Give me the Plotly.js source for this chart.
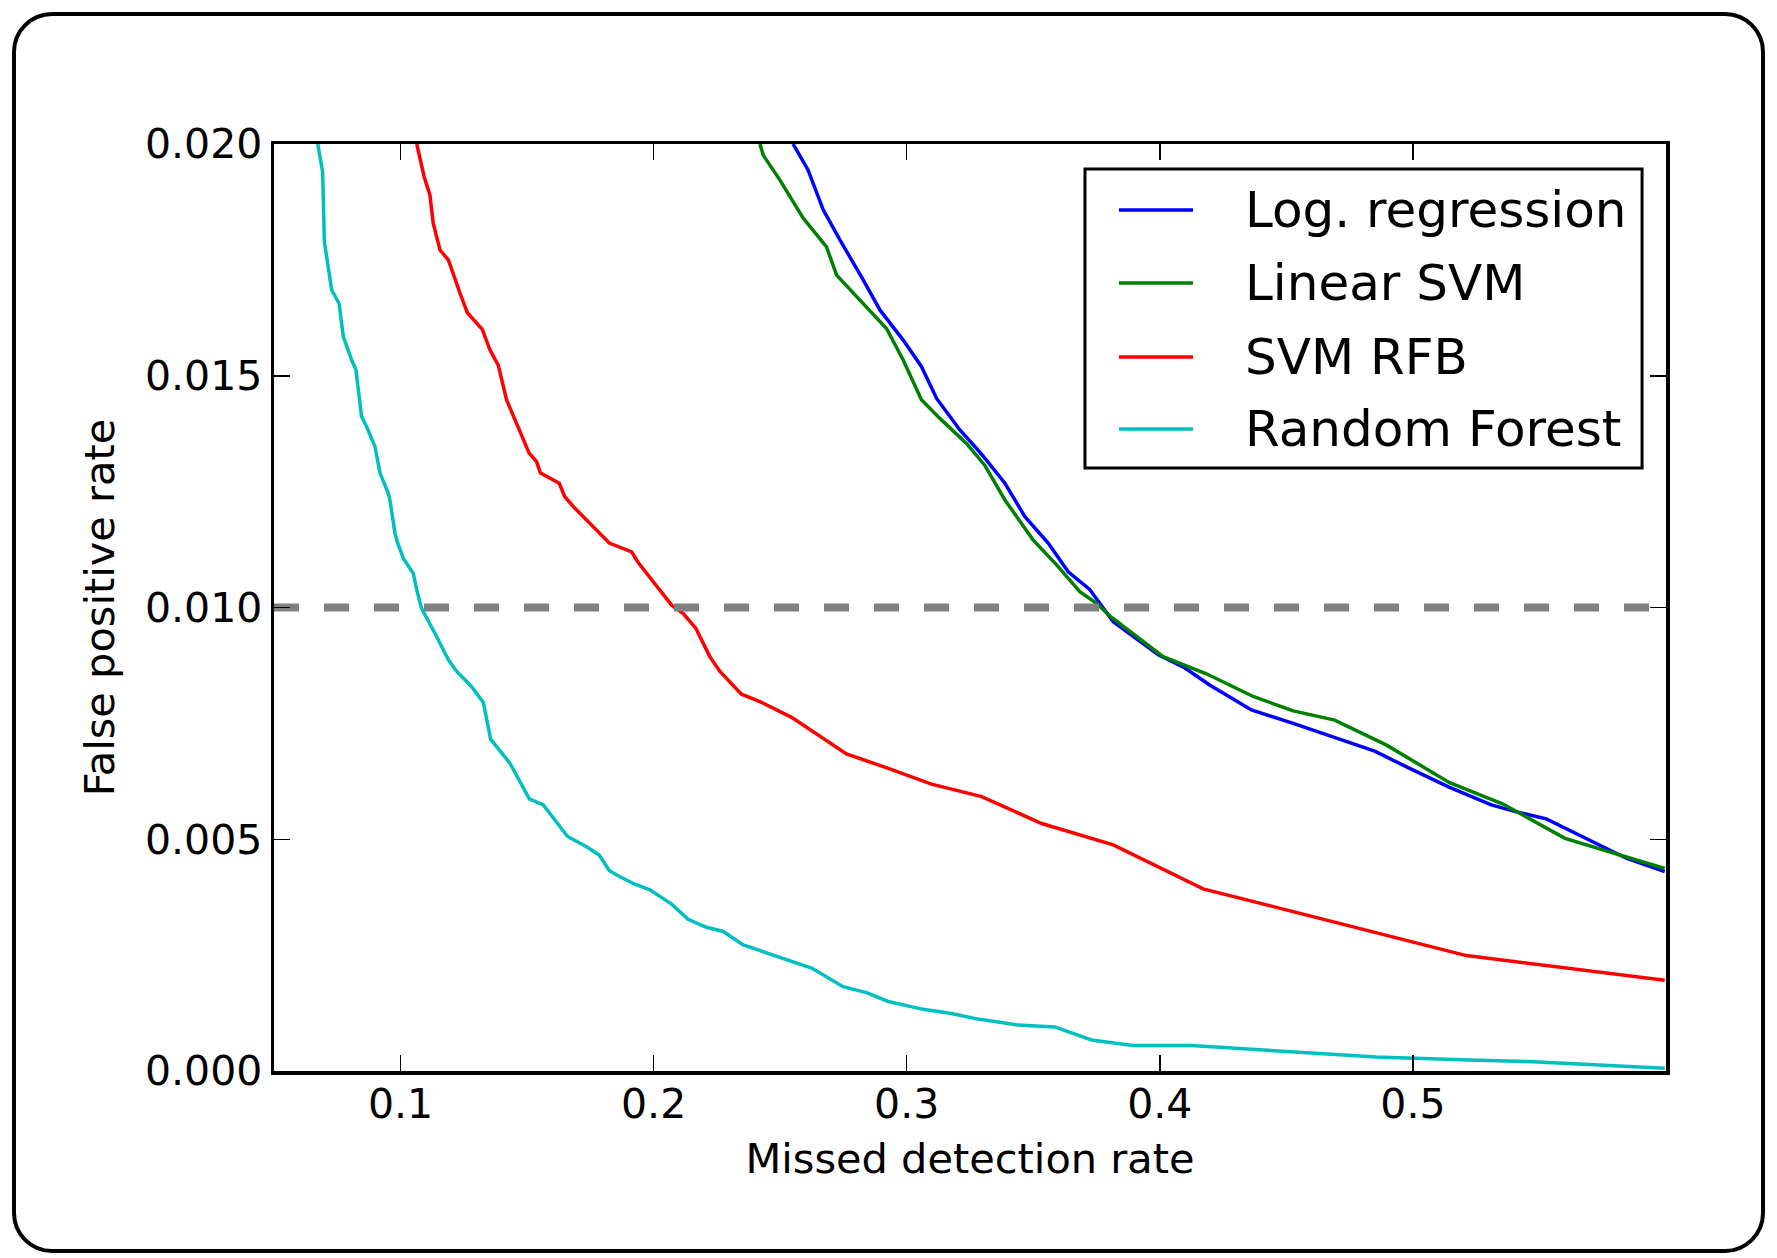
<!DOCTYPE html>
<html>
<head>
<meta charset="utf-8">
<script src="https://cdn.plot.ly/plotly-3.0.1.min.js"></script>
<style>
  html, body { margin: 0; padding: 0; background: #ffffff; }
  #wrap { position: relative; width: 1777px; height: 1258px; }
  #chart { position: absolute; left: 0; top: 0; width: 1777px; height: 1258px; }
  #frame { position: absolute; left: 12px; top: 12px; width: 1753px; height: 1241px;
           box-sizing: border-box; border: 4px solid #000; border-radius: 40px; pointer-events: none; }
</style>
</head>
<body>
<div id="wrap">
  <div id="chart"></div>
  <div id="frame"></div>
</div>
<script>
// ---- data ----
const seriesNames = ["Log. regression", "Linear SVM", "SVM RFB", "Random Forest"];
const seriesColors = ["#0000ff", "#008000", "#ff0000", "#00bfbf"];

const logRegX = [0.2551,0.2610,0.2670,0.2736,0.2828,0.2894,0.2986,0.3058,0.3118,0.3210,0.3276,0.3315,0.3388,0.3467,0.3559,0.3638,0.3723,0.3760,0.3816,0.3994,0.4092,0.4197,0.4362,0.4527,0.4691,0.4849,0.4987,0.5145,0.5310,0.5409,0.5527,0.5712,0.5843,0.5995];
const logRegY = [0.0200,0.01944,0.01858,0.01793,0.01707,0.01642,0.01577,0.01520,0.01451,0.01383,0.01343,0.01318,0.01268,0.01196,0.01139,0.01077,0.01039,0.01010,0.00969,0.00898,0.00872,0.00833,0.00779,0.00750,0.00720,0.00690,0.00653,0.00612,0.00574,0.00559,0.00544,0.00493,0.00459,0.00430];

const linSvmX = [0.2420,0.2433,0.2499,0.2591,0.2683,0.2723,0.2920,0.2986,0.3058,0.3131,0.3236,0.3308,0.3388,0.3460,0.3499,0.3592,0.3684,0.3750,0.3802,0.4013,0.4184,0.4369,0.4527,0.4691,0.4896,0.5145,0.5356,0.5601,0.5751,0.5995];
const linSvmY = [0.0200,0.01976,0.01922,0.01840,0.01778,0.01717,0.01602,0.01534,0.01448,0.01408,0.01354,0.01307,0.01232,0.01178,0.01146,0.01092,0.01034,0.01009,0.00982,0.00894,0.00857,0.00808,0.00777,0.00757,0.00703,0.00622,0.00576,0.00502,0.00477,0.00437];

const svmRbfX = [0.1064,0.1093,0.1116,0.1129,0.1156,0.1189,0.1235,0.1264,0.1323,0.1353,0.1386,0.1419,0.1508,0.1537,0.1553,0.1627,0.1649,0.1689,0.1825,0.1913,0.1939,0.2071,0.2117,0.2167,0.2222,0.2262,0.2347,0.2420,0.2545,0.2762,0.2927,0.3098,0.3296,0.3533,0.3816,0.4171,0.5211,0.5995];
const svmRbfY = [0.0200,0.01930,0.01890,0.01829,0.01771,0.01750,0.01678,0.01636,0.01600,0.01556,0.01523,0.01448,0.01333,0.01315,0.01290,0.01268,0.01239,0.01214,0.01139,0.01120,0.01097,0.01005,0.00987,0.00955,0.00894,0.00862,0.00813,0.00797,0.00763,0.00684,0.00653,0.00619,0.00592,0.00534,0.00488,0.00393,0.00249,0.00196];

const rfX = [0.0673,0.0692,0.0699,0.0721,0.0728,0.0757,0.0774,0.0807,0.0824,0.0846,0.0866,0.0899,0.0919,0.0952,0.0958,0.0978,0.0985,0.1011,0.1050,0.1064,0.1083,0.1143,0.1189,0.1222,0.1281,0.1327,0.1356,0.1432,0.1509,0.1564,0.1660,0.1735,0.1785,0.1825,0.1867,0.1926,0.1985,0.2071,0.2137,0.2209,0.2275,0.2354,0.2459,0.2624,0.2749,0.2841,0.2927,0.3065,0.3177,0.3282,0.3440,0.3585,0.3730,0.3894,0.4124,0.4540,0.4856,0.5224,0.5475,0.5995];
const rfY = [0.0200,0.01940,0.01789,0.01707,0.01685,0.01656,0.01584,0.01534,0.01512,0.01412,0.01390,0.01347,0.01290,0.01246,0.01232,0.01160,0.01145,0.01106,0.01074,0.01038,0.00998,0.00937,0.00887,0.00862,0.00829,0.00795,0.00716,0.00664,0.00587,0.00574,0.00506,0.00484,0.00466,0.00432,0.00419,0.00403,0.00391,0.00360,0.00327,0.00310,0.00301,0.00272,0.00252,0.00222,0.00182,0.00169,0.00150,0.00133,0.00124,0.00112,0.00099,0.00095,0.00067,0.00055,0.00055,0.00040,0.00030,0.00024,0.00020,0.00006];

const thresholdX = [0.05, 0.6];
const thresholdY = [0.01, 0.01];

const xTickVals = [0.1, 0.2, 0.3, 0.4, 0.5];
const xTickText = ["0.1", "0.2", "0.3", "0.4", "0.5"];
const yTickVals = [0.0, 0.005, 0.010, 0.015, 0.020];
const yTickText = ["0.000", "0.005", "0.010", "0.015", "0.020"];
const xRange = [0.05, 0.6];
const yRange = [0.0, 0.02];

// ---- traces ----
const xs = [logRegX, linSvmX, svmRbfX, rfX];
const ys = [logRegY, linSvmY, svmRbfY, rfY];
const traces = seriesNames.map((name, i) => ({
  type: "scatter", mode: "lines", name: name,
  x: xs[i], y: ys[i],
  line: { color: seriesColors[i], width: 3.5 },
  showlegend: false,
  hoverinfo: "skip"
}));
traces.push({
  type: "scatter", mode: "lines", name: "threshold", x: thresholdX, y: thresholdY,
  line: { color: "#808080", width: 8, dash: "25px,25px" },
  showlegend: false, hoverinfo: "skip"
});

const font = "DejaVu Sans, Liberation Sans, sans-serif";
const axisCommon = {
  showline: true, linecolor: "#000", linewidth: 3.5, mirror: "ticks",
  ticks: "inside", ticklen: 16, tickwidth: 1.5, tickcolor: "#000",
  showgrid: false, zeroline: false, tickfont: { family: font, size: 41, color: "#000" },
  fixedrange: true
};

// ---- legend box (paper coordinates) ----
const legBox = { x0: 0.5826, x1: 0.9828, y0: 0.6505, y1: 0.9730 };
const legRowsY = [0.9288, 0.8500, 0.7702, 0.6926];
const legLine = { x0: 0.6070, x1: 0.6602 };
const legTextX = 0.6961;

const shapes = [{
  type: "rect", xref: "paper", yref: "paper",
  x0: legBox.x0, x1: legBox.x1, y0: legBox.y0, y1: legBox.y1,
  line: { color: "#000", width: 3 }, fillcolor: "#ffffff", layer: "above"
}];
const annotations = [];
seriesNames.forEach((name, i) => {
  shapes.push({
    type: "line", xref: "paper", yref: "paper",
    x0: legLine.x0, x1: legLine.x1, y0: legRowsY[i], y1: legRowsY[i],
    line: { color: seriesColors[i], width: 3.5 }, layer: "above"
  });
  annotations.push({
    xref: "paper", yref: "paper", x: legTextX, y: legRowsY[i],
    xanchor: "left", yanchor: "middle", showarrow: false, text: name,
    font: { family: font, size: 50, color: "#000" }
  });
});

const layout = {
  width: 1777, height: 1258,
  paper_bgcolor: "#ffffff", plot_bgcolor: "#ffffff",
  margin: { l: 274, r: 111, t: 144, b: 187, pad: 0 },
  font: { family: font, color: "#000" },
  showlegend: false,
  xaxis: Object.assign({}, axisCommon, {
    range: xRange, tickvals: xTickVals, ticktext: xTickText,
    ticklabelstandoff: -6,
    title: { text: "Missed detection rate", font: { family: font, size: 41.5, color: "#000" }, standoff: 18 }
  }),
  yaxis: Object.assign({}, axisCommon, {
    range: yRange, tickvals: yTickVals, ticktext: yTickText,
    ticklabelstandoff: 0,
    title: { text: "False positive rate", font: { family: font, size: 41.5, color: "#000" }, standoff: 18 }
  }),
  shapes: shapes,
  annotations: annotations
};

Plotly.newPlot("chart", traces, layout, { displayModeBar: false, staticPlot: true });
</script>
</body>
</html>
